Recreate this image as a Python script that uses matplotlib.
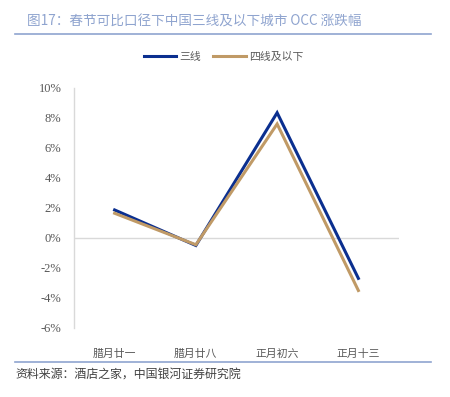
import numpy as np
import matplotlib
matplotlib.use('Agg')
import matplotlib.pyplot as plt
from matplotlib.lines import Line2D

plt.rcParams['font.family'] = ['Noto Sans CJK SC', 'DejaVu Sans']

categories = ['腊月廿一', '腊月廿八', '正月初六', '正月十三']
tier3 = [1.87, -0.50, 8.35, -2.69]
tier4_below = [1.65, -0.45, 7.60, -3.50]
series_names = ['三线', '四线及以下']
yticks = [-6, -4, -2, 0, 2, 4, 6, 8, 10]

title = '图17：春节可比口径下中国三线及以下城市 OCC 涨跌幅'
source = '资料来源：酒店之家，中国银河证券研究院'

blue = '#0b2f8f'
tan = '#c09a66'
accent = '#8fa4cf'
grey = '#595959'

fig = plt.figure(figsize=(4.5, 3.97), dpi=100)
W, H = 450, 397

ax = fig.add_axes([74 / W, 1 - 328 / H, 325 / W, 240 / H])
x = np.arange(len(categories))
ax.plot(x, tier3, color=blue, lw=2.2, label=series_names[0], solid_joinstyle='miter')
ax.plot(x, tier4_below, color=tan, lw=2.2, label=series_names[1], solid_joinstyle='miter')
ax.axhline(0, color='#d9d9d9', lw=1, zorder=0)

ax.set_xlim(-0.5, len(categories) - 0.5)
ax.set_ylim(-6, 10)
ax.set_yticks(yticks)
ax.set_yticklabels([f'{v}%' for v in yticks], family=['Liberation Serif', 'Noto Sans CJK SC'],
                   fontsize=9, color=grey)
ax.set_xticks(x)
ax.set_xticklabels(categories, fontsize=7.8, color=grey)
ax.tick_params(axis='both', length=0)
ax.tick_params(axis='y', pad=9)
ax.tick_params(axis='x', pad=15)
for s in ['top', 'right', 'bottom']:
    ax.spines[s].set_visible(False)
ax.spines['left'].set_color('#d9d9d9')
ax.spines['left'].set_linewidth(1)

fig.legend(loc='center', bbox_to_anchor=(0.497, 1 - 57 / H), ncol=2, frameon=False,
           fontsize=7.8, handlelength=3.0, handletextpad=0.3, columnspacing=1.1,
           labelcolor=grey)

fig.text(27 / W, 1 - 22 / H, title, fontsize=9.8, color=accent, va='center', ha='left')
fig.add_artist(Line2D([15 / W, 431 / W], [1 - 34 / H, 1 - 34 / H], color=accent, lw=1.2,
                      transform=fig.transFigure))
fig.add_artist(Line2D([15 / W, 431 / W], [1 - 362 / H, 1 - 362 / H], color=accent, lw=1.2,
                      transform=fig.transFigure))
fig.text(15 / W, 1 - 374 / H, source, fontsize=8.6, color='#404040', va='center', ha='left')

fig.savefig('out.png', dpi=100)
